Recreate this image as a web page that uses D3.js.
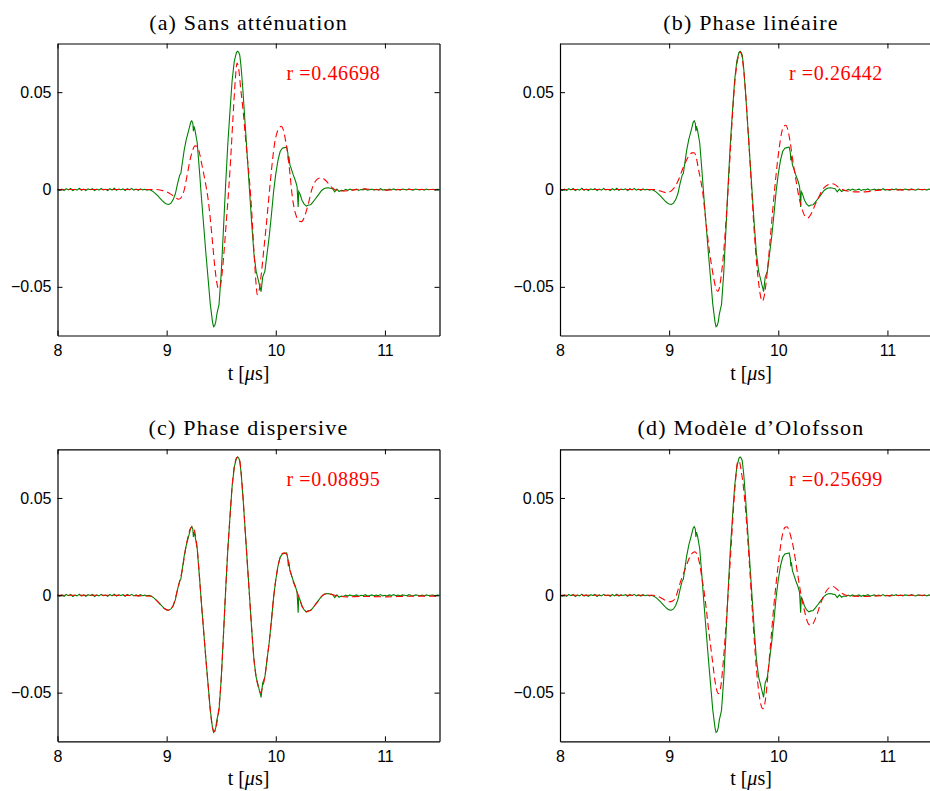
<!DOCTYPE html>
<html><head><meta charset="utf-8">
<script src="https://cdn.jsdelivr.net/npm/d3@7/dist/d3.min.js"></script>
<style>
html,body{margin:0;padding:0;background:#fff;}
svg{display:block;}
</style></head>
<body>
<script>
// ---------------- DATA ----------------
const xTicks = [8, 9, 10, 11];
const yTicks = [-0.05, 0, 0.05];
const titles = ["(a) Sans atténuation", "(b) Phase linéaire", "(c) Phase dispersive", "(d) Modèle d\u2019Olofsson"];
const rValues = ["0.46698", "0.26442", "0.08895", "0.25699"];

// measured signal (green) : baseline before the echo, sampled every 0.02 µs from 8.00
const greenPre = [0.0003,-0.0004,0.0002,-0.0005,0.0004,-0.0002,0.0005,-0.0006,0.0001,-0.0003,0.0006,-0.0004,0.0002,-0.0005,0.0003,-0.0001,0.0004,-0.0006,0.0002,-0.0003,0.0005,-0.0002,0.0001,-0.0005,0.0004,-0.0003,0.0006,-0.0004,0.0002,-0.0001,0.0003,-0.0005,0.0004,-0.0002,0.0005,-0.0003,0.0002,-0.0004,0.0003,-0.0002,0.0001,-0.0003,0.0000];
// measured signal (green) : echo
const greenT = [8.86,8.88,8.90,8.92,8.94,8.96,8.98,9.00,9.02,9.04,9.06,9.08,9.10,9.12,9.13,9.14,9.16,9.18,9.20,9.21,9.22,9.23,9.24,9.245,9.25,9.26,9.28,9.30,9.32,9.34,9.36,9.38,9.40,9.42,9.43,9.44,9.45,9.46,9.47,9.48,9.50,9.52,9.54,9.56,9.58,9.60,9.62,9.64,9.65,9.66,9.67,9.68,9.685,9.70,9.72,9.74,9.76,9.78,9.80,9.82,9.84,9.85,9.86,9.865,9.87,9.88,9.89,9.90,9.92,9.94,9.96,9.98,10.00,10.02,10.04,10.06,10.08,10.10,10.11,10.115,10.12,10.13,10.14,10.16,10.18,10.195,10.205,10.21,10.22,10.24,10.26,10.28,10.30,10.32,10.34,10.36,10.38,10.40,10.42,10.44,10.46,10.48,10.50,10.52,10.54,10.56,10.58,10.60];
const greenV = [-0.0005,-0.0012,-0.0022,-0.0033,-0.0045,-0.0057,-0.0068,-0.0075,-0.0077,-0.0070,-0.0052,-0.0022,0.0030,0.0075,0.0082,0.0122,0.0200,0.0258,0.0300,0.0322,0.0345,0.0353,0.0340,0.0300,0.0325,0.0305,0.0240,0.0100,-0.0050,-0.0190,-0.0330,-0.0460,-0.0590,-0.0680,-0.0705,-0.0700,-0.0680,-0.0640,-0.0615,-0.0590,-0.0430,-0.0210,0.0020,0.0230,0.0400,0.0560,0.0660,0.0705,0.0710,0.0705,0.0690,0.0640,0.0610,0.0500,0.0330,0.0160,-0.0010,-0.0180,-0.0330,-0.0420,-0.0465,-0.0490,-0.0510,-0.0525,-0.0500,-0.0450,-0.0435,-0.0420,-0.0330,-0.0240,-0.0130,-0.0010,0.0080,0.0150,0.0195,0.0212,0.0215,0.0218,0.0190,0.0150,0.0170,0.0125,0.0110,0.0075,0.0045,0.0015,-0.0090,-0.0010,-0.0020,-0.0055,-0.0075,-0.0085,-0.0080,-0.0078,-0.0065,-0.0050,-0.0035,-0.0020,-0.0005,0.0004,0.0008,0.0009,0.0006,0.0004,-0.0012,0.0002,-0.0010,-0.0004];
// measured signal (green) : baseline after the echo, sampled every 0.02 µs from 10.62
const greenPost = [-0.0006,0.0001,-0.0004,0.0002,-0.0003,-0.0001,0.0002,-0.0005,0.0000,-0.0002,0.0003,-0.0004,-0.0001,0.0002,-0.0003,0.0001,-0.0002,0.0004,-0.0003,0.0000,-0.0004,0.0002,-0.0001,0.0003,-0.0002,0.0001,-0.0003,0.0002,0.0000,-0.0002,0.0003,-0.0001,-0.0003,0.0002,0.0000,-0.0002,0.0001,-0.0003,0.0002,-0.0001,0.0000,0.0001,-0.0002,0.0001,0.0000];

// model (red dashed) for each panel
const redAT = [8.00,8.50,8.90,8.95,9.00,9.04,9.08,9.11,9.14,9.16,9.18,9.20,9.22,9.24,9.26,9.28,9.30,9.32,9.34,9.36,9.38,9.40,9.42,9.44,9.46,9.475,9.49,9.51,9.53,9.55,9.57,9.59,9.61,9.63,9.645,9.66,9.68,9.70,9.72,9.74,9.76,9.78,9.80,9.82,9.83,9.85,9.87,9.89,9.91,9.93,9.95,9.97,9.99,10.01,10.03,10.05,10.07,10.09,10.11,10.13,10.15,10.17,10.19,10.21,10.235,10.26,10.28,10.30,10.33,10.36,10.39,10.42,10.45,10.48,10.51,10.54,10.58,10.62,10.70,10.80,10.90,11.00,11.20,11.50];
const redAV = [0.0000,0.0000,0.0000,-0.0004,-0.0012,-0.0025,-0.0042,-0.0050,-0.0035,-0.0005,0.0050,0.0110,0.0165,0.0205,0.0224,0.0222,0.0190,0.0135,0.0080,0.0020,-0.0050,-0.0150,-0.0270,-0.0390,-0.0480,-0.0510,-0.0500,-0.0420,-0.0290,-0.0140,0.0010,0.0190,0.0390,0.0570,0.0650,0.0620,0.0510,0.0410,0.0280,0.0160,0.0040,-0.0120,-0.0320,-0.0490,-0.0540,-0.0510,-0.0420,-0.0310,-0.0200,-0.0080,0.0040,0.0150,0.0240,0.0290,0.0315,0.0325,0.0305,0.0250,0.0180,0.0080,-0.0030,-0.0100,-0.0140,-0.0160,-0.0165,-0.0145,-0.0110,-0.0070,0.0000,0.0040,0.0057,0.0060,0.0050,0.0032,0.0012,0.0000,-0.0006,-0.0008,-0.0003,0.0003,0.0000,-0.0003,0.0000,0.0000];

const redBT = [8.00,8.50,8.85,8.90,8.94,8.97,9.00,9.03,9.06,9.09,9.12,9.15,9.18,9.21,9.23,9.25,9.27,9.29,9.31,9.33,9.35,9.37,9.39,9.41,9.43,9.445,9.46,9.48,9.50,9.52,9.54,9.56,9.58,9.60,9.62,9.64,9.65,9.66,9.68,9.70,9.72,9.74,9.76,9.78,9.80,9.82,9.84,9.855,9.87,9.89,9.91,9.93,9.95,9.97,9.99,10.01,10.03,10.05,10.07,10.09,10.11,10.13,10.15,10.17,10.19,10.21,10.23,10.25,10.27,10.29,10.31,10.34,10.37,10.40,10.43,10.46,10.49,10.52,10.55,10.58,10.62,10.70,10.80,10.90,11.00,11.10,11.30,11.50];
const redBV = [0.0000,0.0000,0.0000,-0.0004,-0.0012,-0.0016,-0.0013,-0.0002,0.0020,0.0055,0.0100,0.0140,0.0172,0.0188,0.0189,0.0160,0.0100,0.0045,-0.0025,-0.0130,-0.0230,-0.0320,-0.0395,-0.0460,-0.0510,-0.0523,-0.0505,-0.0430,-0.0320,-0.0170,0.0000,0.0190,0.0380,0.0540,0.0640,0.0695,0.0705,0.0700,0.0630,0.0500,0.0330,0.0150,-0.0040,-0.0220,-0.0370,-0.0480,-0.0555,-0.0574,-0.0550,-0.0470,-0.0360,-0.0230,-0.0100,0.0020,0.0130,0.0220,0.0290,0.0325,0.0330,0.0300,0.0240,0.0160,0.0090,0.0020,-0.0040,-0.0085,-0.0120,-0.0142,-0.0146,-0.0135,-0.0115,-0.0075,-0.0040,-0.0005,0.0015,0.0026,0.0030,0.0025,0.0012,0.0002,-0.0006,-0.0012,-0.0012,-0.0005,0.0000,-0.0002,0.0000,0.0000];

const redCT = [8.00,8.50,8.86,8.90,8.94,8.98,9.02,9.06,9.10,9.14,9.18,9.22,9.24,9.26,9.28,9.30,9.32,9.34,9.36,9.38,9.40,9.42,9.435,9.45,9.47,9.50,9.52,9.54,9.56,9.58,9.60,9.62,9.64,9.655,9.67,9.70,9.72,9.74,9.76,9.78,9.80,9.82,9.84,9.86,9.88,9.90,9.92,9.94,9.96,9.98,10.00,10.02,10.04,10.06,10.08,10.10,10.12,10.14,10.16,10.18,10.20,10.22,10.24,10.26,10.28,10.30,10.32,10.34,10.36,10.38,10.40,10.42,10.44,10.47,10.50,10.54,10.58,10.65,10.80,11.00,11.20,11.50];
const redCV = [0.0000,0.0000,-0.0005,-0.0022,-0.0045,-0.0068,-0.0077,-0.0052,0.0030,0.0122,0.0258,0.0345,0.0352,0.0320,0.0240,0.0100,-0.0050,-0.0190,-0.0330,-0.0460,-0.0590,-0.0680,-0.0700,-0.0685,-0.0620,-0.0430,-0.0210,0.0020,0.0230,0.0400,0.0560,0.0660,0.0705,0.0710,0.0690,0.0500,0.0330,0.0160,-0.0010,-0.0180,-0.0330,-0.0420,-0.0470,-0.0500,-0.0470,-0.0420,-0.0330,-0.0240,-0.0130,-0.0010,0.0080,0.0150,0.0195,0.0215,0.0218,0.0210,0.0160,0.0110,0.0070,0.0040,0.0010,-0.0020,-0.0055,-0.0075,-0.0085,-0.0080,-0.0076,-0.0065,-0.0050,-0.0035,-0.0020,-0.0005,0.0004,0.0008,0.0006,0.0000,-0.0005,-0.0008,-0.0006,-0.0008,-0.0005,-0.0004];

const redDT = [8.00,8.50,8.85,8.90,8.94,8.97,9.00,9.03,9.06,9.09,9.12,9.15,9.18,9.21,9.235,9.26,9.28,9.30,9.32,9.34,9.36,9.38,9.40,9.42,9.44,9.45,9.47,9.49,9.51,9.53,9.55,9.57,9.59,9.61,9.63,9.645,9.66,9.68,9.70,9.72,9.74,9.76,9.78,9.80,9.82,9.84,9.86,9.88,9.90,9.92,9.94,9.96,9.98,10.00,10.02,10.04,10.06,10.08,10.10,10.12,10.14,10.16,10.18,10.20,10.22,10.24,10.26,10.28,10.30,10.32,10.34,10.36,10.38,10.40,10.42,10.44,10.47,10.50,10.53,10.56,10.59,10.62,10.70,10.80,10.90,11.00,11.20,11.50];
const redDV = [0.0000,0.0000,0.0000,-0.0006,-0.0018,-0.0028,-0.0033,-0.0030,-0.0010,0.0045,0.0095,0.0140,0.0185,0.0215,0.0223,0.0205,0.0160,0.0090,0.0020,-0.0070,-0.0170,-0.0260,-0.0350,-0.0440,-0.0495,-0.0505,-0.0480,-0.0380,-0.0240,-0.0080,0.0090,0.0270,0.0450,0.0600,0.0690,0.0685,0.0640,0.0560,0.0440,0.0290,0.0120,-0.0060,-0.0230,-0.0380,-0.0490,-0.0560,-0.0583,-0.0545,-0.0440,-0.0310,-0.0180,-0.0050,0.0060,0.0160,0.0250,0.0315,0.0348,0.0352,0.0330,0.0290,0.0240,0.0170,0.0100,0.0030,-0.0030,-0.0080,-0.0125,-0.0150,-0.0154,-0.0145,-0.0120,-0.0090,-0.0055,-0.0025,0.0000,0.0022,0.0040,0.0045,0.0035,0.0020,0.0008,0.0000,-0.0005,-0.0006,-0.0003,-0.0002,0.0000,0.0000];

const redT = [redAT, redBT, redCT, redDT];
const redV = [redAV, redBV, redCV, redDV];

// ---------------- LAYOUT ----------------
const W = 930, H = 791;
const plotW = 382, plotH = 292;
const lefts = [57.5, 560, 57.5, 560];
const tops = [43.5, 43.5, 449.3, 449.3];

const svg = d3.select("body").append("svg").attr("width", W).attr("height", H);

const serif = "'Liberation Serif', 'Times New Roman', serif";
const sans = "'Liberation Sans', Arial, Helvetica, sans-serif";

// measured series as points
const greenPts = [];
greenPre.forEach((v, i) => greenPts.push([8 + i * 0.02, v]));
greenT.forEach((t, i) => greenPts.push([t, greenV[i]]));
greenPost.forEach((v, i) => greenPts.push([10.62 + i * 0.02, v]));

for (let p = 0; p < 4; p++) {
  const x = d3.scaleLinear().domain([8, 11.5]).range([0, plotW]);
  const y = d3.scaleLinear().domain([-0.075, 0.075]).range([plotH, 0]);
  const g = svg.append("g").attr("transform", `translate(${lefts[p]},${tops[p]})`);

  g.append("defs").append("clipPath").attr("id", "clip" + p)
    .append("rect").attr("width", plotW).attr("height", plotH);

  const lineSharp = d3.line().x(d => x(d[0])).y(d => y(d[1]));
  const lineSmooth = d3.line().x(d => x(d[0])).y(d => y(d[1])).curve(d3.curveMonotoneX);

  const plot = g.append("g").attr("clip-path", `url(#clip${p})`);
  plot.append("path").datum(greenPts).attr("d", lineSharp)
    .attr("fill", "none").attr("stroke", "#008000").attr("stroke-width", 1.1);
  const rp = redT[p].map((t, i) => [t, redV[p][i]]);
  plot.append("path").datum(rp).attr("d", lineSmooth)
    .attr("fill", "none").attr("stroke", "#ff0000").attr("stroke-width", 1.1)
    .attr("stroke-dasharray", "7,4");

  // axes with inward ticks on all sides
  const tick = 5;
  const ax = g.append("g").attr("transform", `translate(0,${plotH})`)
    .call(d3.axisBottom(x).tickValues(xTicks).tickFormat(d3.format("d")).tickSizeInner(-tick).tickSizeOuter(0).tickPadding(9));
  const ay = g.append("g")
    .call(d3.axisLeft(y).tickValues(yTicks).tickFormat(d3.format("")).tickSizeInner(-tick).tickSizeOuter(0).tickPadding(6));
  const at = g.append("g")
    .call(d3.axisTop(x).tickValues(xTicks).tickFormat("").tickSizeInner(-tick).tickSizeOuter(0));
  const ar = g.append("g").attr("transform", `translate(${plotW},0)`)
    .call(d3.axisRight(y).tickValues(yTicks).tickFormat("").tickSizeInner(-tick).tickSizeOuter(0));
  [ax, ay, at, ar].forEach(a => {
    a.selectAll("path.domain").attr("stroke", "#000").attr("stroke-width", 1.2);
    a.selectAll(".tick line").attr("stroke", "#000").attr("stroke-width", 1);
    a.selectAll("text").attr("font-family", sans).attr("font-size", 16).attr("fill", "#000");
  });

  // title
  g.append("text").attr("x", plotW / 2).attr("y", -14).attr("text-anchor", "middle")
    .attr("font-family", serif).attr("font-size", 22).attr("letter-spacing", 1.2).attr("fill", "#000")
    .text(titles[p]);

  // x label
  const xl = g.append("text").attr("x", plotW / 2).attr("y", plotH + 44).attr("text-anchor", "middle")
    .attr("font-family", serif).attr("font-size", 20).attr("fill", "#000");
  xl.append("tspan").text("t [");
  xl.append("tspan").attr("font-style", "italic").text("\u03bc");
  xl.append("tspan").text("s]");

  // correlation label
  g.append("text").attr("x", 229).attr("y", 36.5)
    .attr("font-family", serif).attr("font-size", 20).attr("letter-spacing", 0.6).attr("fill", "#ff0000")
    .text("r =" + rValues[p]);
}
</script>
</body></html>
